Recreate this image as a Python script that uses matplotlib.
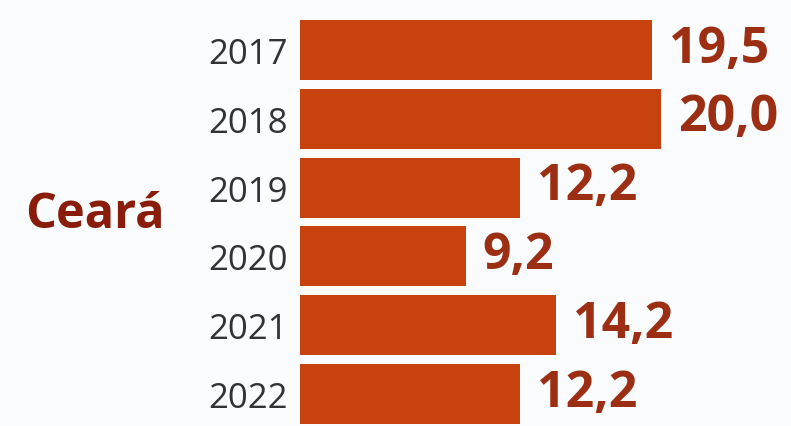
import matplotlib.pyplot as plt

years = ["2017", "2018", "2019", "2020", "2021", "2022"]
values = [19.5, 20.0, 12.2, 9.2, 14.2, 12.2]
region = "Ceará"

bar_color = "#c8420f"
value_color = "#9c2f13"
title_color = "#8a1c0c"

fig = plt.figure(figsize=(7.91, 4.27), dpi=100)
fig.patch.set_facecolor("#fafcfd")
ax = fig.add_axes([300 / 791, 0, 1 - 300 / 791, 1])
ax.set_facecolor("none")

pos = list(range(len(years)))
ax.barh(pos, values, height=0.87, color=bar_color, edgecolor="none")

ax.set_xlim(0, 27.2)
ax.set_ylim(5.465, -0.741)

ax.set_yticks(pos)
ax.set_yticklabels(years, fontsize=25, color="#333333", family="Open Sans")
ax.tick_params(axis="y", length=0, pad=8.5)
ax.set_xticks([])
for s in ax.spines.values():
    s.set_visible(False)

for p, v in zip(pos, values):
    ax.annotate(f"{v:.1f}".replace(".", ","), xy=(v, p), xytext=(12, 1),
                textcoords="offset points", va="center", ha="left",
                fontsize=36, fontweight="bold", color=value_color,
                family="Open Sans")

fig.text(95 / 791, 1 - 216 / 427, region, ha="center", va="center",
         fontsize=35, fontweight="bold", color=title_color, family="Open Sans")

fig.savefig("out.png", dpi=100, facecolor=fig.get_facecolor())
